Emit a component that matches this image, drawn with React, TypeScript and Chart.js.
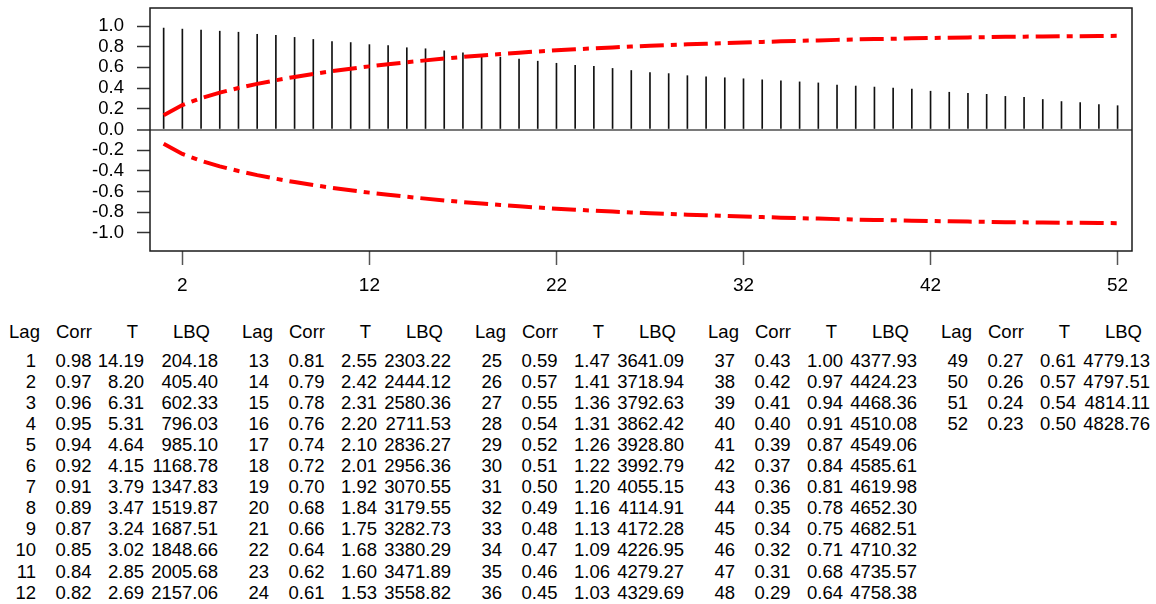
import React, { useEffect, useRef } from "react";
import { Chart, registerables } from "chart.js";

Chart.register(...registerables);

const FONT = '"Liberation Sans", Arial, Helvetica, sans-serif';

const lags = [
  1, 2, 3, 4, 5, 6, 7, 8, 9, 10, 11, 12, 13, 14, 15, 16, 17, 18, 19, 20, 21, 22, 23, 24, 25, 26,
  27, 28, 29, 30, 31, 32, 33, 34, 35, 36, 37, 38, 39, 40, 41, 42, 43, 44, 45, 46, 47, 48, 49, 50, 51, 52,
];

const corr = [
  0.98, 0.97, 0.96, 0.95, 0.94, 0.92, 0.91, 0.89, 0.87, 0.85, 0.84, 0.82,
  0.81, 0.79, 0.78, 0.76, 0.74, 0.72, 0.7, 0.68, 0.66, 0.64, 0.62, 0.61,
  0.59, 0.57, 0.55, 0.54, 0.52, 0.51, 0.5, 0.49, 0.48, 0.47, 0.46, 0.45,
  0.43, 0.42, 0.41, 0.4, 0.39, 0.37, 0.36, 0.35, 0.34, 0.32, 0.31, 0.29,
  0.27, 0.26, 0.24, 0.23,
];

const tStat = [
  14.19, 8.2, 6.31, 5.31, 4.64, 4.15, 3.79, 3.47, 3.24, 3.02, 2.85, 2.69,
  2.55, 2.42, 2.31, 2.2, 2.1, 2.01, 1.92, 1.84, 1.75, 1.68, 1.6, 1.53,
  1.47, 1.41, 1.36, 1.31, 1.26, 1.22, 1.2, 1.16, 1.13, 1.09, 1.06, 1.03,
  1.0, 0.97, 0.94, 0.91, 0.87, 0.84, 0.81, 0.78, 0.75, 0.71, 0.68, 0.64,
  0.61, 0.57, 0.54, 0.5,
];

const lbq = [
  204.18, 405.4, 602.33, 796.03, 985.1, 1168.78, 1347.83, 1519.87, 1687.51, 1848.66, 2005.68, 2157.06,
  2303.22, 2444.12, 2580.36, 2711.53, 2836.27, 2956.36, 3070.55, 3179.55, 3282.73, 3380.29, 3471.89, 3558.82,
  3641.09, 3718.94, 3792.63, 3862.42, 3928.8, 3992.79, 4055.15, 4114.91, 4172.28, 4226.95, 4279.27, 4329.69,
  4377.93, 4424.23, 4468.36, 4510.08, 4549.06, 4585.61, 4619.98, 4652.3, 4682.51, 4710.32, 4735.57, 4758.38,
  4779.13, 4797.51, 4814.11, 4828.76,
];

const upperLimit = [
  0.138, 0.236, 0.302, 0.356, 0.401, 0.441, 0.476, 0.508, 0.537, 0.563, 0.587, 0.61,
  0.63, 0.65, 0.668, 0.685, 0.701, 0.716, 0.729, 0.742, 0.754, 0.765, 0.775, 0.784,
  0.793, 0.802, 0.809, 0.816, 0.823, 0.829, 0.835, 0.841, 0.846, 0.852, 0.857, 0.861,
  0.866, 0.87, 0.874, 0.877, 0.881, 0.884, 0.887, 0.89, 0.892, 0.895, 0.897, 0.899,
  0.901, 0.902, 0.904, 0.905,
];

const lowerLimit = [
  -0.138, -0.236, -0.302, -0.356, -0.401, -0.441, -0.476, -0.508, -0.537, -0.563, -0.587, -0.61,
  -0.63, -0.65, -0.668, -0.685, -0.701, -0.716, -0.729, -0.742, -0.754, -0.765, -0.775, -0.784,
  -0.793, -0.802, -0.809, -0.816, -0.823, -0.829, -0.835, -0.841, -0.846, -0.852, -0.857, -0.861,
  -0.866, -0.87, -0.874, -0.877, -0.881, -0.884, -0.887, -0.89, -0.892, -0.895, -0.897, -0.899,
  -0.901, -0.902, -0.904, -0.905,
];

const yTicks = [-1.0, -0.8, -0.6, -0.4, -0.2, 0.0, 0.2, 0.4, 0.6, 0.8, 1.0];
const xTicks = [2, 12, 22, 32, 42, 52];
const headers = ["Lag", "Corr", "T", "LBQ"];

const GROUP_SIZE = 12;
const GROUP_DX = 233;
const HEADER_CENTERS = [24.5, 74, 132.5, 191.5];
const VALUE_RIGHTS = [36, 91.5, 144, 218];
const HEADER_Y = 332;
const ROW_Y0 = 360.5;
const ROW_DY = 21.1;

const boxPlugin = {
  id: "boxPlugin",
  afterDatasetsDraw(chart: any) {
    const { ctx, chartArea } = chart;
    ctx.save();
    ctx.strokeStyle = "#1a1a1a";
    ctx.lineWidth = 1.5;
    ctx.strokeRect(chartArea.left, chartArea.top, chartArea.right - chartArea.left, chartArea.bottom - chartArea.top);
    ctx.restore();
  },
};

function AcfChart() {
  const ref = useRef<HTMLCanvasElement | null>(null);
  useEffect(() => {
    if (!ref.current) return;
    const chart = new Chart(ref.current, {
      type: "bar",
      data: {
        datasets: [
          {
            type: "line",
            data: lags.map((l, i) => ({ x: l, y: upperLimit[i] })),
            borderColor: "#ff0000",
            borderWidth: 4,
            borderDash: [24, 7, 6, 7],
            pointRadius: 0,
            fill: false,
            tension: 0,
            order: 0,
          },
          {
            type: "line",
            data: lags.map((l, i) => ({ x: l, y: lowerLimit[i] })),
            borderColor: "#ff0000",
            borderWidth: 4,
            borderDash: [24, 7, 6, 7],
            pointRadius: 0,
            fill: false,
            tension: 0,
            order: 0,
          },
          {
            type: "bar",
            data: lags.map((l, i) => ({ x: l, y: corr[i] })),
            backgroundColor: "#111111",
            borderWidth: 0,
            barThickness: 1,
            order: 1,
          },
        ],
      } as any,
      options: {
        animation: false,
        responsive: false,
        devicePixelRatio: 1,
        layout: { padding: { top: 8, right: 24, left: 0, bottom: 0 } },
        plugins: { legend: { display: false }, tooltip: { enabled: false } },
        scales: {
          x: {
            type: "linear",
            min: 0.27,
            max: 52.77,
            offset: false,
            afterBuildTicks: (s: any) => {
              s.ticks = xTicks.map((v) => ({ value: v }));
            },
            afterFit: (s: any) => {
              s.height = 49;
              s.paddingLeft = 0;
              s.paddingRight = 0;
            },
            grid: {
              offset: false,
              drawOnChartArea: false,
              drawTicks: true,
              tickLength: 14,
              tickColor: "#555555",
              tickWidth: 1.5,
            },
            border: { display: false },
            ticks: {
              color: "#000000",
              font: { family: FONT, size: 19 },
              padding: 9,
              maxRotation: 0,
              autoSkip: false,
              callback: (v: any) => String(v),
            },
          },
          y: {
            type: "linear",
            min: -1.174,
            max: 1.174,
            afterBuildTicks: (s: any) => {
              s.ticks = yTicks.map((v) => ({ value: v }));
            },
            afterFit: (s: any) => {
              s.width = 150;
              s.paddingTop = 0;
              s.paddingBottom = 0;
            },
            grid: {
              drawOnChartArea: true,
              color: (c: any) =>
                c.tick && Math.abs(c.tick.value) < 1e-9 ? "#7a7a7a" : "rgba(0,0,0,0)",
              lineWidth: (c: any) => (c.tick && Math.abs(c.tick.value) < 1e-9 ? 2 : 1),
              tickLength: 13,
              tickColor: "#333333",
              tickWidth: 1.5,
            },
            border: { display: false },
            ticks: {
              color: "#000000",
              font: { family: FONT, size: 18.5 },
              padding: 13,
              autoSkip: false,
              callback: (v: any) => Number(v).toFixed(1),
            },
          },
        },
      } as any,
      plugins: [boxPlugin],
    });
    return () => chart.destroy();
  }, []);
  return (
    <canvas
      ref={ref}
      width={1156}
      height={300}
      style={{ position: "absolute", left: 0, top: 0, width: 1156, height: 300, display: "block" }}
    />
  );
}

function Cell(props: { text: string; x: number; y: number; align: "right" | "center" }) {
  const w = 120;
  const left = props.align === "right" ? props.x - w : props.x - w / 2;
  return (
    <div
      style={{
        position: "absolute",
        left,
        top: props.y - 11,
        width: w,
        height: 22,
        lineHeight: "22px",
        textAlign: props.align,
        fontFamily: FONT,
        fontSize: 18.5,
        color: "#000",
        whiteSpace: "nowrap",
      }}
    >
      {props.text}
    </div>
  );
}

function AcfTable() {
  const cells: any[] = [];
  const groups = Math.ceil(lags.length / GROUP_SIZE);
  for (let g = 0; g < groups; g++) {
    const bx = g * GROUP_DX;
    headers.forEach((h, c) => {
      cells.push(<Cell key={`h${g}-${c}`} text={h} x={bx + HEADER_CENTERS[c]} y={HEADER_Y} align="center" />);
    });
    for (let r = 0; r < GROUP_SIZE; r++) {
      const i = g * GROUP_SIZE + r;
      if (i >= lags.length) break;
      const y = ROW_Y0 + r * ROW_DY;
      const vals = [String(lags[i]), corr[i].toFixed(2), tStat[i].toFixed(2), lbq[i].toFixed(2)];
      vals.forEach((t, c) => {
        cells.push(<Cell key={`v${i}-${c}`} text={t} x={bx + VALUE_RIGHTS[c]} y={y} align="right" />);
      });
    }
  }
  return <>{cells}</>;
}

export default function App() {
  return (
    <div
      style={{
        position: "fixed",
        left: 0,
        top: 0,
        width: 1156,
        height: 604,
        background: "#ffffff",
        overflow: "hidden",
      }}
    >
      <AcfChart />
      <AcfTable />
    </div>
  );
}
